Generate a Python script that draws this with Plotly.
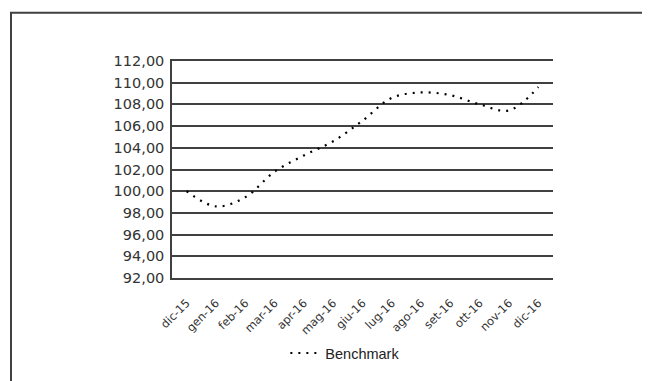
import plotly.graph_objects as go

mesi = ['dic-15', 'gen-16', 'feb-16', 'mar-16', 'apr-16', 'mag-16', 'giu-16',
        'lug-16', 'ago-16', 'set-16', 'ott-16', 'nov-16', 'dic-16']
benchmark = [100.0, 98.6, 99.45, 101.8, 103.3, 104.6, 106.5,
             108.6, 109.1, 108.85, 108.0, 107.45, 109.6]

grid_col = '#404040'

fig = go.Figure()
fig.add_trace(go.Scatter(x=mesi, y=benchmark, mode='lines', name='Benchmark',
                         line=dict(color='black', width=2.2, dash='2px,6px', shape='spline', smoothing=1)))

#cornice esterna
fig.add_shape(type='rect', xref='paper', yref='paper',
              x0=-0.4226, x1=1.3, y0=-0.6, y1=1.2226,
              line=dict(color=grid_col, width=2), fillcolor='rgba(0,0,0,0)')

# la pagina ha 8px di margine sul body
fig.update_layout(width=650, height=381, margin=dict(l=164, r=105, t=53, b=111),
                  paper_bgcolor='white', plot_bgcolor='white', separators=',.',
                  showlegend=True,
                  legend=dict(orientation='h', x=0.455, xanchor='center', y=-0.346, yanchor='middle',
                              font=dict(family='Liberation Sans', size=14.5, color='#222222'),
                              bgcolor='rgba(0,0,0,0)'))

fig.update_yaxes(range=[92, 112], tick0=92, dtick=2, tickformat='.2f',
                 showgrid=True, gridcolor=grid_col, gridwidth=1.5,
                 showline=True, linecolor=grid_col, linewidth=1.5,
                 zeroline=False, ticks='', ticklabelstandoff=3,
                 tickfont=dict(family='DejaVu Sans', size=14.5, color='#333333'))
fig.update_xaxes(type='category', range=[-0.5, 12.5], showgrid=False,
                 showline=True, mirror=True, linecolor=grid_col, linewidth=1.5,
                 zeroline=False, ticks='', tickangle=-45, ticklabelstandoff=12,
                 tickfont=dict(family='DejaVu Sans', size=11.5, color='#333333'))

fig.write_html("out.html")
